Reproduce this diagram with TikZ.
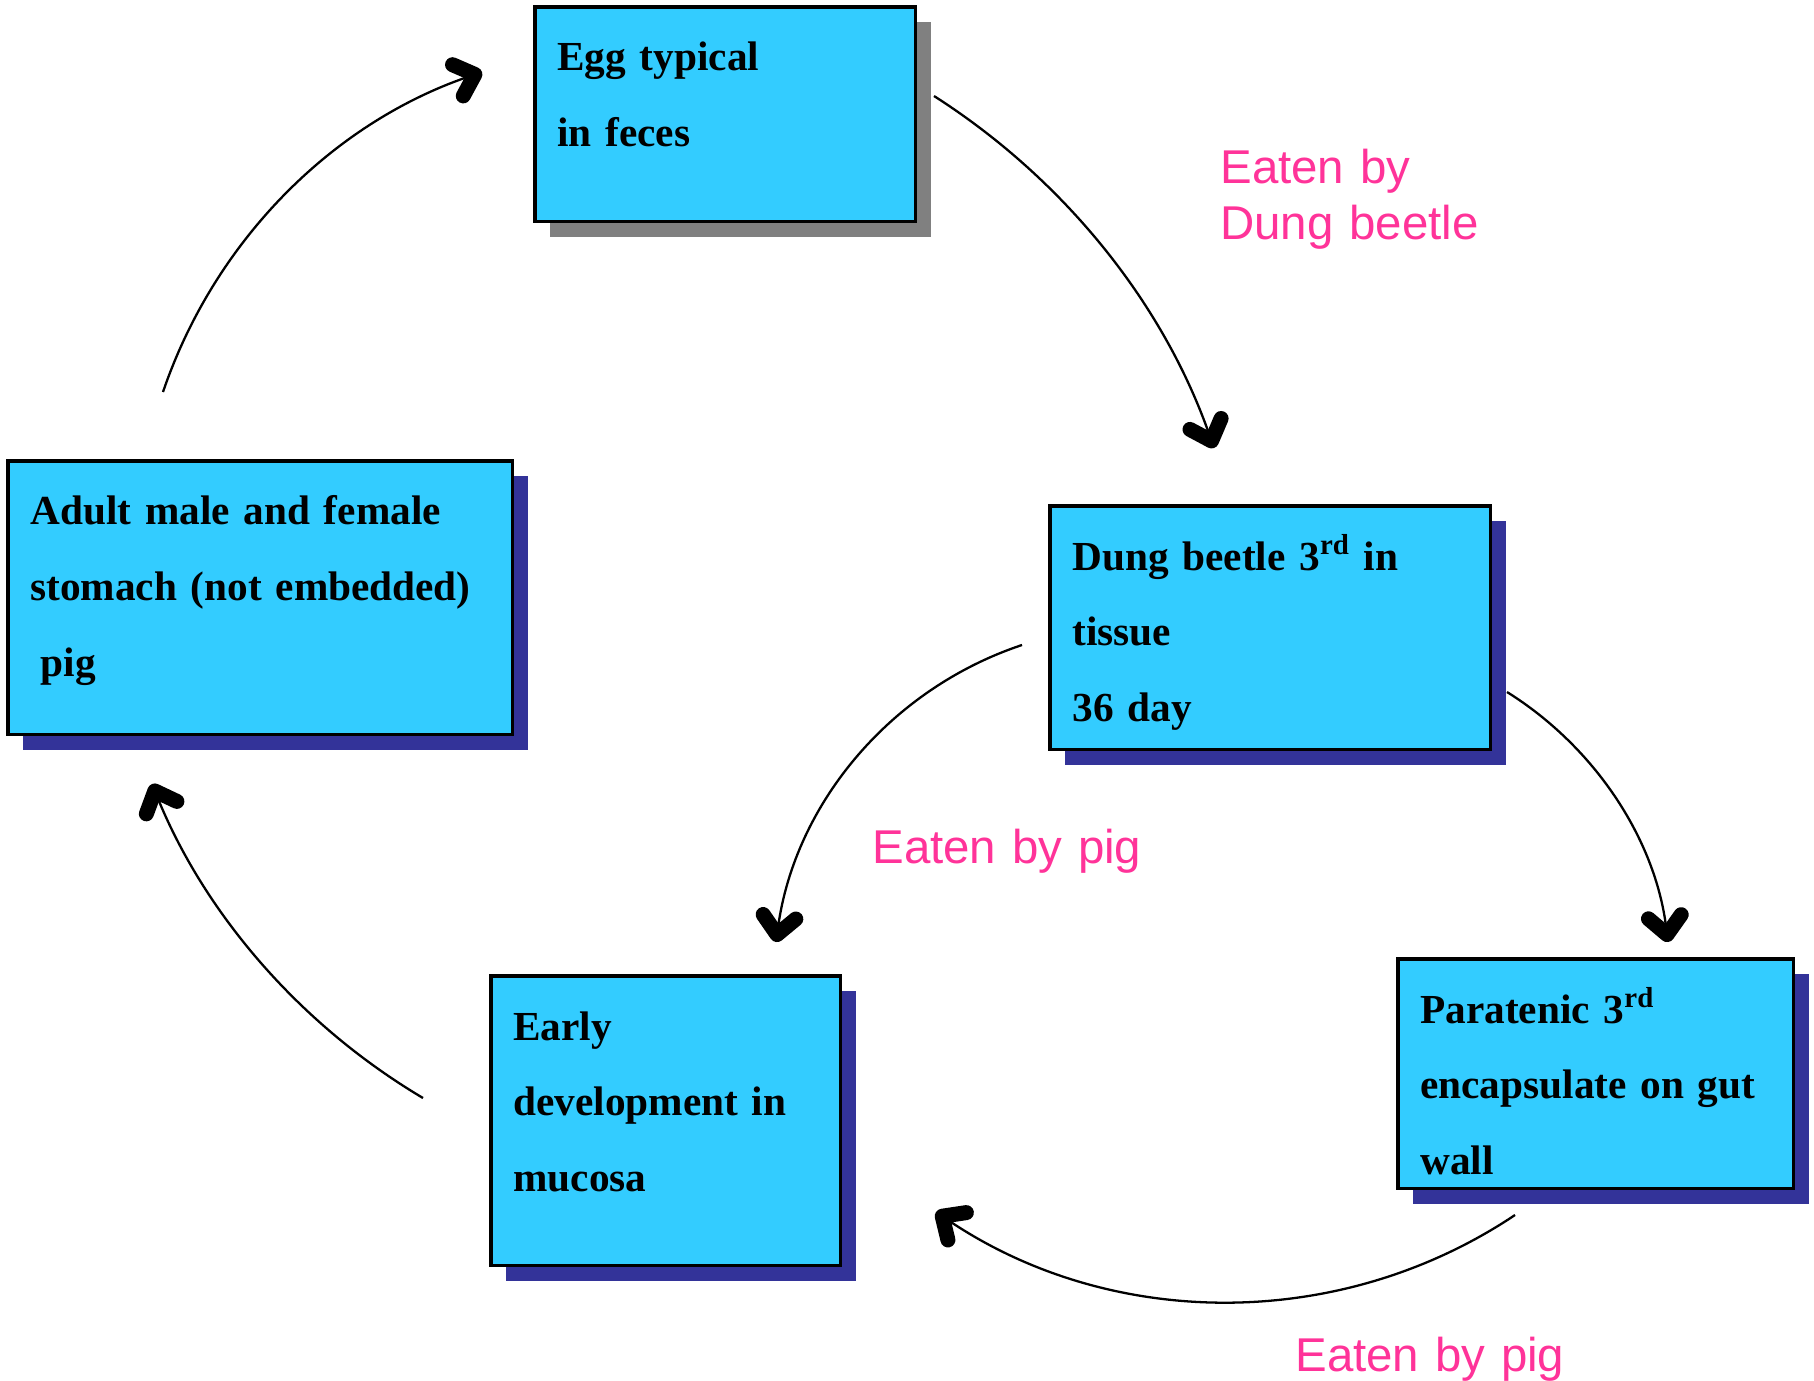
\documentclass[tikz,border=0pt]{standalone}
\usepackage{fontspec}
\setmainfont{Liberation Serif}
\newfontfamily\labelfont{Liberation Sans}
\usetikzlibrary{arrows.meta}
\definecolor{boxfill}{HTML}{33CCFF}
\definecolor{shadowblue}{HTML}{333399}
\definecolor{shadowgray}{HTML}{808080}
\definecolor{pinklabel}{HTML}{FF3399}
\tikzset{
  stagebox/.style={draw=black, line width=2pt, fill=boxfill, rectangle, inner sep=0pt, anchor=north west},
  stagetext/.style={anchor=base west, inner sep=0pt, text width=12cm, align=left, font=\bfseries\fontsize{23.5}{43.1}\selectfont},
  eatlabel/.style={anchor=base west, inner sep=0pt, text width=8cm, align=left, text=pinklabel, font=\labelfont\fontsize{27}{32.4}\selectfont},
  conn/.style={line width=1.3pt, -{Straight Barb[length=0.36cm, width=0.66cm, line width=0.3cm, round]}},
}
\begin{document}
\begin{tikzpicture}[x=0.02cm, y=-0.02cm]
\useasboundingbox[fill=white] (0,0) rectangle (1814,1380);
% shadows
\fill[shadowgray] (550,22) rectangle (931,237);
\fill[shadowblue] (23,476) rectangle (528,750);
\fill[shadowblue] (1065,521) rectangle (1506,765);
\fill[shadowblue] (1413,974) rectangle (1809,1204);
\fill[shadowblue] (506,991) rectangle (856,1281);
% boxes
\node[stagebox, minimum width=7.62cm, minimum height=4.3cm] (egg) at (533,5) {};
\node[stagebox, minimum width=10.1cm, minimum height=5.48cm] (adult) at (6,459) {};
\node[stagebox, minimum width=8.82cm, minimum height=4.88cm] (dung) at (1048,504) {};
\node[stagebox, minimum width=7.92cm, minimum height=4.6cm] (para) at (1396,957) {};
\node[stagebox, minimum width=7.0cm, minimum height=5.8cm] (early) at (489,974) {};
% box texts
\node[stagetext] (eggt) at ([shift={(0.48cm,-1.32cm)}]egg.north west) {Egg typical\\in feces};
\node[stagetext] (adultt) at ([shift={(0.48cm,-1.32cm)}]adult.north west) {Adult male and female\\stomach (not embedded)\\\hspace*{6pt}pig};
\node[stagetext] (dungt) at ([shift={(0.48cm,-1.32cm)}]dung.north west) {Dung beetle 3\textsuperscript{rd} in\\tissue\\36 day};
\node[stagetext] (parat) at ([shift={(0.48cm,-1.32cm)}]para.north west) {Paratenic 3\textsuperscript{rd}\\encapsulate on gut\\wall};
\node[stagetext] (earlyt) at ([shift={(0.48cm,-1.32cm)}]early.north west) {Early\\development in\\mucosa};
% labels
\node[eatlabel] (lab1) at (1220,183) {Eaten by\\Dung beetle};
\node[eatlabel] (lab2) at (872,863) {Eaten by pig};
\node[eatlabel] (lab3) at (1295,1371) {Eaten by pig};
% connector end points
\coordinate (a1s) at (934,96);   \coordinate (a1e) at (1214,448);
\coordinate (a2s) at (163,392);  \coordinate (a2e) at (482,72);
\coordinate (a3s) at (1022,645); \coordinate (a3e) at (776,942);
\coordinate (a4s) at (1507,692); \coordinate (a4e) at (1668,942);
\coordinate (a5s) at (1515,1215);\coordinate (a5e) at (936,1212);
\coordinate (a6s) at (423,1098); \coordinate (a6e) at (152,784);
% connectors
\draw[conn] (a1s) .. controls (1064,179) and (1163,303) .. (a1e);
\draw[conn] (a2s) .. controls (214,242) and (331,124) .. (a2e);
\draw[conn] (a3s) .. controls (890,689) and (795,804) .. (a3e);
\draw[conn] (a4s) .. controls (1595,747) and (1655,839) .. (a4e);
\draw[conn] (a5s) .. controls (1340,1332) and (1111,1330) .. (a5e);
\draw[conn] (a6s) .. controls (300,1025) and (205,914) .. (a6e);
\end{tikzpicture}
\end{document}
